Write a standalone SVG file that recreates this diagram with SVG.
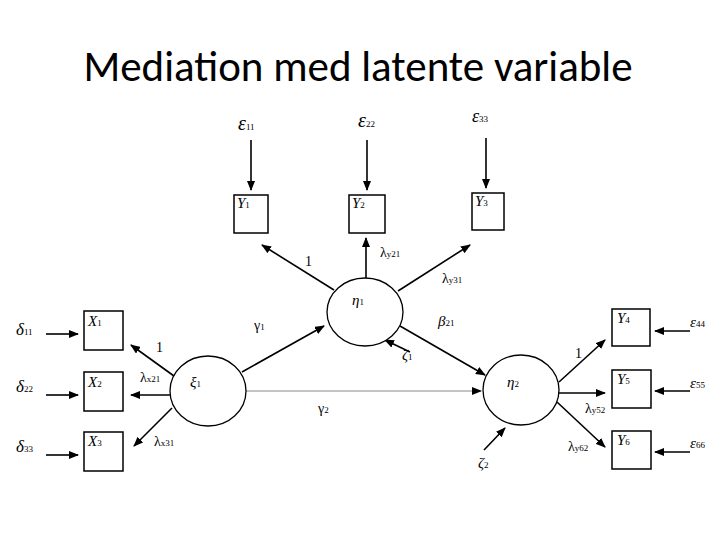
<svg xmlns="http://www.w3.org/2000/svg" width="720" height="540" viewBox="0 0 720 540">
<defs><marker id="ah" markerWidth="10" markerHeight="8" refX="9" refY="4" orient="auto" markerUnits="userSpaceOnUse"><path d="M0,0 L10,4 L0,8 Z" fill="#000"/></marker></defs>
<style>
.t{font-family:"Liberation Serif",serif;font-style:italic;font-size:15px}
.s{font-family:"Liberation Serif",serif;font-size:14px}
.sub{font-size:9px;font-style:normal}
.box{fill:#fff;stroke:#000;stroke-width:1.5}
.lat{fill:#fff;stroke:#000;stroke-width:1.3}
.c line{stroke:#000;stroke-width:1.6;marker-end:url(#ah)}
</style>
<rect width="720" height="540" fill="#fff"/>
<text x="358" y="81" text-anchor="middle" font-family="Carlito,'Open Sans',sans-serif" font-size="43">Mediation med latente variable</text>
<g class="c">
<line x1="251" y1="140" x2="251" y2="190"/>
<line x1="367" y1="140" x2="367" y2="190"/>
<line x1="486" y1="138" x2="486" y2="188"/>
<line x1="334" y1="290" x2="262" y2="245"/>
<line x1="366" y1="278" x2="366" y2="238"/>
<line x1="398" y1="291" x2="470" y2="245"/>
<line x1="242" y1="372" x2="324" y2="326"/>
<line x1="400" y1="326" x2="485" y2="375"/>
<line x1="410" y1="352" x2="385" y2="340"/>
<line x1="246" y1="391" x2="481" y2="391" style="stroke:#888;stroke-width:1"/>
<line x1="484" y1="450" x2="505" y2="428"/>
<line x1="174" y1="376" x2="131" y2="345"/>
<line x1="170" y1="395" x2="131" y2="395"/>
<line x1="172" y1="408" x2="134" y2="446"/>
<line x1="46" y1="334" x2="78" y2="334"/>
<line x1="46" y1="395" x2="78" y2="395"/>
<line x1="46" y1="455" x2="78" y2="455"/>
<line x1="559" y1="382" x2="605" y2="340"/>
<line x1="559" y1="393" x2="605" y2="393"/>
<line x1="557" y1="402" x2="605" y2="447"/>
<line x1="690" y1="331" x2="655" y2="331"/>
<line x1="690" y1="391" x2="655" y2="391"/>
<line x1="690" y1="452" x2="655" y2="452"/>
</g>
<g id="Y1"><rect class="box" x="234" y="195" width="34" height="38"/><text class="t" x="237" y="208">Y<tspan class="sub">1</tspan></text></g>
<g id="Y2"><rect class="box" x="349" y="195" width="36" height="38"/><text class="t" x="352" y="208">Y<tspan class="sub">2</tspan></text></g>
<g id="Y3"><rect class="box" x="472" y="193" width="32" height="37"/><text class="t" x="475" y="206">Y<tspan class="sub">3</tspan></text></g>
<g id="X1"><rect class="box" x="84" y="311" width="39" height="39"/><text class="t" x="88" y="326">X<tspan class="sub">1</tspan></text></g>
<g id="X2"><rect class="box" x="84" y="372" width="39" height="39"/><text class="t" x="88" y="387">X<tspan class="sub">2</tspan></text></g>
<g id="X3"><rect class="box" x="84" y="432" width="39" height="39"/><text class="t" x="88" y="446">X<tspan class="sub">3</tspan></text></g>
<g id="Y4"><rect class="box" x="612" y="309" width="38" height="37"/><text class="t" x="617" y="323">Y<tspan class="sub">4</tspan></text></g>
<g id="Y5"><rect class="box" x="612" y="370" width="39" height="38"/><text class="t" x="617" y="384">Y<tspan class="sub">5</tspan></text></g>
<g id="Y6"><rect class="box" x="612" y="431" width="39" height="38"/><text class="t" x="617" y="445">Y<tspan class="sub">6</tspan></text></g>
<g id="eta1"><ellipse class="lat" cx="365" cy="312" rx="38" ry="34"/><text class="t" x="352" y="305">η<tspan class="sub">1</tspan></text></g>
<g id="xi1"><ellipse class="lat" cx="208" cy="391" rx="38" ry="35"/><text class="t" x="190" y="387">ξ<tspan class="sub">1</tspan></text></g>
<g id="eta2"><ellipse class="lat" cx="521" cy="390" rx="38" ry="35"/><text class="t" x="507" y="387">η<tspan class="sub">2</tspan></text></g>
<g class="t">
<text x="238" y="130" font-size="20">ε<tspan class="sub" font-size="13" font-style="italic">11</tspan></text>
<text x="358" y="127" font-size="20">ε<tspan class="sub" font-size="13">22</tspan></text>
<text x="472" y="122" font-size="18">ε<tspan class="sub" font-size="12" font-style="italic">33</tspan></text>
<text x="16" y="335" font-size="17">δ<tspan class="sub">11</tspan></text>
<text x="16" y="392" font-size="17">δ<tspan class="sub">22</tspan></text>
<text x="16" y="452" font-size="17">δ<tspan class="sub">33</tspan></text>
<text x="690" y="327" font-size="15">ε<tspan class="sub">44</tspan></text>
<text x="690" y="388" font-size="15">ε<tspan class="sub">55</tspan></text>
<text x="690" y="448" font-size="15">ε<tspan class="sub">66</tspan></text>
<text x="402" y="360">ζ<tspan class="sub">1</tspan></text>
<text x="478" y="468">ζ<tspan class="sub">2</tspan></text>
<text x="438" y="326">β<tspan class="sub">21</tspan></text>
</g>
<g class="s">
<text x="305" y="266">1</text>
<text x="380" y="257">λ<tspan class="sub">y21</tspan></text>
<text x="442" y="283">λ<tspan class="sub">y31</tspan></text>
<text x="254" y="330">γ<tspan class="sub">1</tspan></text>
<text x="318" y="413">γ<tspan class="sub">2</tspan></text>
<text x="156" y="352">1</text>
<text x="140" y="382">λ<tspan class="sub">x21</tspan></text>
<text x="154" y="446">λ<tspan class="sub">x31</tspan></text>
<text x="575" y="358">1</text>
<text x="585" y="413">λ<tspan class="sub">y52</tspan></text>
<text x="568" y="451">λ<tspan class="sub">y62</tspan></text>
</g>
</svg>
